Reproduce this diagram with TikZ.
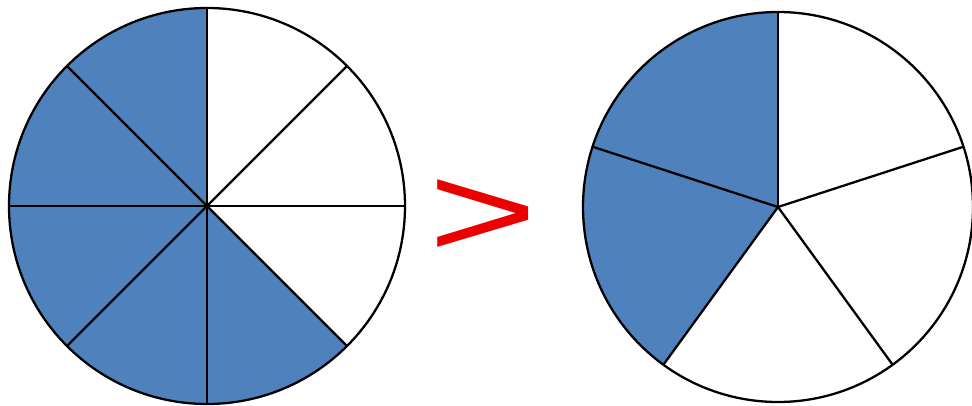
\documentclass[tikz,border=0pt]{standalone}
\usepackage{fontspec}
\newfontfamily\signofont{Liberation Sans}
\usepackage{tikz}
\usetikzlibrary{calc,positioning}
\definecolor{officeblue}{RGB}{79,129,189}
\definecolor{signred}{RGB}{235,0,0}
\tikzset{
  lleno/.style={
    fill=officeblue
  },
  borde/.style={
    draw=black,
    line width=1.3pt
  },
  signo/.style={
    text=signred,
    font=\signofont\fontsize{76}{76}\selectfont,
    inner sep=0pt,
    xscale=1.4
  }
}

\begin{document}
\begin{tikzpicture}
\useasboundingbox (0,0) rectangle (19.44,8.12);
\coordinate (ocho) at (4.14,4.00);
\coordinate (cinco) at (15.56,3.98);
% cinco octavos
\fill[lleno] (ocho) -- ++(90:3.96) arc[start angle=90,end angle=315,radius=3.96] -- cycle;
\draw[borde] (ocho) circle[radius=3.96];
\foreach \a in {0,45,...,315}
  \draw[borde] (ocho) -- ++(\a:3.96);
% dos quintos
\fill[lleno] (cinco) -- ++(90:3.90) arc[start angle=90,end angle=234,radius=3.90] -- cycle;
\draw[borde] (cinco) circle[radius=3.90];
\foreach \a in {18,90,162,234,306}
  \draw[borde] (cinco) -- ++(\a:3.90);
\node[signo] (mayor) at (9.66,3.74) {>};
\end{tikzpicture}
\end{document}
